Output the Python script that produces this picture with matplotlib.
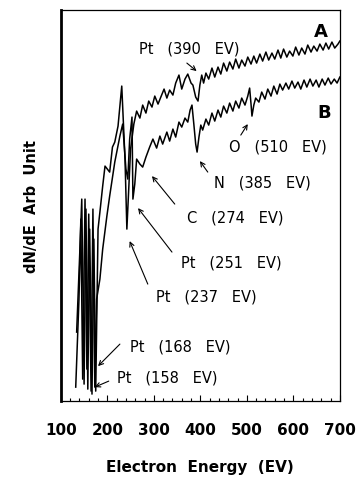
import numpy as np
import matplotlib
matplotlib.use('Agg')
import matplotlib.pyplot as plt
from matplotlib.ticker import MultipleLocator

# spectrum A (upper curve): energy in EV, intensity in arbitrary units
energy_a = [134, 141, 145, 150, 154, 158, 162, 167, 171, 175, 180, 184, 190, 195, 200,
            205, 211, 216, 223, 227, 231, 238, 242, 246, 250, 257, 263, 270, 276, 283,
            289, 296, 302, 309, 315, 322, 328, 334, 341, 347, 354, 360, 367, 373, 380,
            384, 390, 395, 399, 403, 407, 412, 418, 425, 431, 438, 444, 450, 457, 463,
            470, 476, 483, 489, 496, 502, 509, 515, 521, 528, 534, 541, 547, 554, 560,
            567, 573, 579, 586, 592, 599, 605, 612, 618, 625, 631, 638, 644, 651, 657,
            664, 670, 676, 683, 689, 696, 700]
signal_a = [69, 152, 202, 17, 192, 12, 172, 7, 162, 10, 172, 189, 215, 235, 232,
            229, 254, 259, 275, 295, 315, 242, 172, 212, 252, 277, 290, 283, 296, 288,
            300, 294, 305, 297, 304, 312, 303, 311, 306, 318, 326, 312, 322, 327, 318,
            316, 304, 300, 316, 326, 318, 328, 322, 333, 324, 334, 327, 338, 330, 339,
            332, 342, 333, 341, 335, 344, 337, 345, 338, 347, 340, 349, 341, 348, 342,
            351, 343, 352, 344, 350, 345, 354, 346, 353, 347, 356, 349, 355, 350, 357,
            351, 358, 352, 359, 353, 357, 360]

# spectrum B (lower curve)
energy_b = [132, 139, 143, 147, 152, 156, 160, 165, 169, 173, 177, 184, 190, 199, 205,
            216, 227, 233, 240, 244, 248, 253, 255, 259, 263, 270, 276, 283, 291, 298,
            306, 313, 319, 328, 334, 341, 347, 354, 360, 367, 373, 378, 382, 386, 390,
            393, 397, 401, 405, 412, 418, 425, 431, 438, 444, 450, 457, 463, 470, 476,
            483, 489, 496, 502, 506, 509, 511, 515, 519, 526, 532, 539, 545, 552, 558,
            565, 571, 577, 584, 590, 597, 603, 610, 616, 623, 629, 636, 642, 649, 655,
            662, 668, 675, 681, 688, 694, 700]
signal_b = [14, 102, 182, 22, 202, 32, 187, 10, 192, 14, 102, 122, 152, 185, 205,
            239, 265, 277, 232, 222, 262, 284, 202, 217, 242, 237, 234, 244, 254, 262,
            253, 265, 257, 269, 260, 272, 264, 279, 274, 283, 279, 291, 296, 277, 257,
            249, 264, 276, 271, 282, 276, 288, 280, 291, 284, 295, 288, 298, 290, 300,
            293, 303, 296, 305, 313, 297, 285, 296, 303, 299, 309, 302, 312, 305, 315,
            307, 317, 311, 318, 312, 320, 313, 319, 312, 321, 314, 322, 315, 321, 314,
            322, 316, 323, 317, 322, 318, 324]

# peak labels: text, text position, arrow tail, arrow tip
peak_labels = ['Pt   (390   EV)', 'O   (510   EV)', 'N   (385   EV)', 'C   (274   EV)',
               'Pt   (251   EV)', 'Pt   (237   EV)', 'Pt   (168   EV)', 'Pt   (158   EV)']
label_xy = [(377, 353), (567, 255), (534, 219), (474, 184),
            (466, 139), (412, 105), (356, 55), (328, 24)]
tail_xy = [(371, 338), (487, 266), (416, 229), (345, 197),
           (339, 149), (287, 117), (227, 57), (203, 20)]
tip_xy = [(392, 330), (502, 277), (399, 240), (296, 225),
          (266, 193), (248, 160), (180, 35), (173, 14)]

fig = plt.figure(figsize=(3.6, 4.81), dpi=100)
ax = fig.add_axes([0.169, 0.164, 0.775, 0.813])

ax.plot(energy_a, signal_a, color='black', lw=1.1)
ax.plot(energy_b, signal_b, color='black', lw=1.1)

for txt, (tx, ty), (sx, sy), (px, py) in zip(peak_labels, label_xy, tail_xy, tip_xy):
    ax.text(tx, ty, txt, fontsize=10.5, ha='center', va='center')
    ax.annotate('', xy=(px, py), xytext=(sx, sy),
                arrowprops=dict(arrowstyle='->', color='black', lw=0.8,
                                mutation_scale=8, shrinkA=0, shrinkB=0))

ax.text(674, 370, 'A', fontsize=13, fontweight='bold', ha='right', va='center')
ax.text(680, 289, 'B', fontsize=13, fontweight='bold', ha='right', va='center')

ax.set_xlim(100, 700)
ax.set_ylim(0, 391)
ax.set_xticks([100, 200, 300, 400, 500, 600, 700])
ax.xaxis.set_minor_locator(MultipleLocator(20))
ax.set_yticks([])
ax.tick_params(axis='x', which='major', direction='in', length=4, width=0.8, pad=15,
               labelsize=11)
ax.tick_params(axis='x', which='minor', direction='in', length=2.5, width=0.8)
for lab in ax.get_xticklabels():
    lab.set_fontweight('bold')

ax.spines['left'].set_linewidth(2)
for side in ['top', 'right', 'bottom']:
    ax.spines[side].set_linewidth(0.9)

ax.set_xlabel('Electron  Energy  (EV)', fontsize=11, fontweight='bold', labelpad=16)
ax.set_ylabel('dN/dE  Arb  Unit', fontsize=10.5, fontweight='bold', labelpad=16)

fig.savefig('out.png', dpi=100)
